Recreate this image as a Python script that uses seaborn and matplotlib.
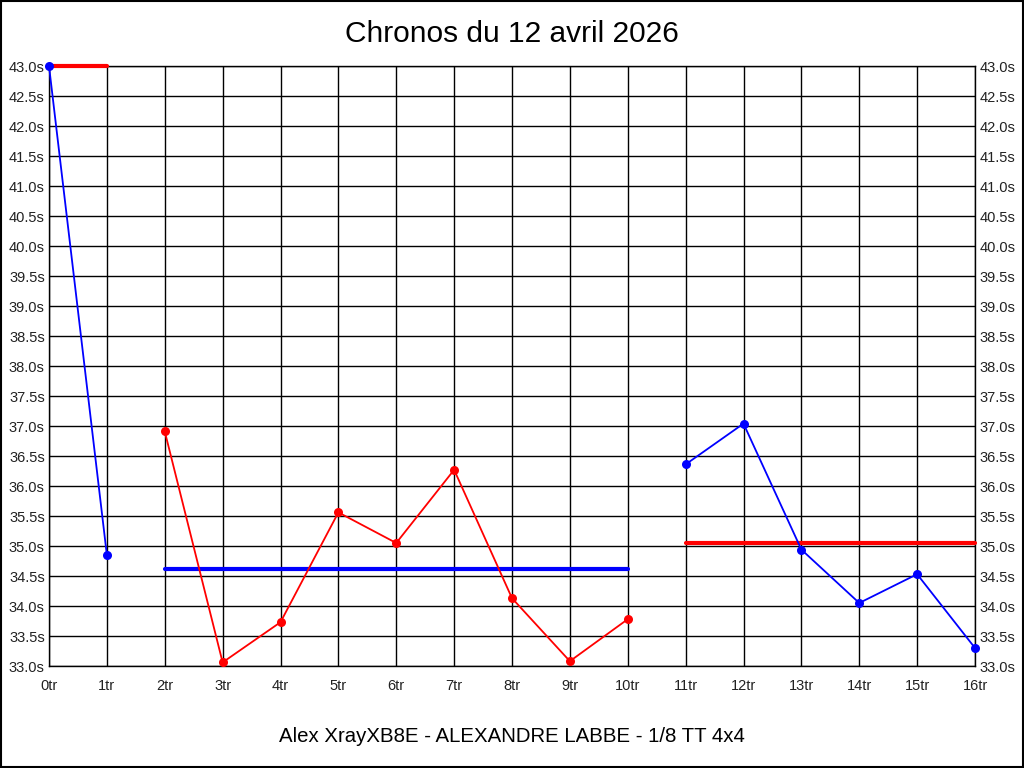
import pandas as pd
import matplotlib.pyplot as plt
import matplotlib.patches as mpatches
import seaborn as sns

# tours et chronos (en secondes)
tours_a = [0, 1]
chronos_a = [43.0, 34.85]
tours_b = [2, 3, 4, 5, 6, 7, 8, 9, 10]
chronos_b = [36.91, 33.06, 33.73, 35.56, 35.05, 36.27, 34.13, 33.08, 33.78]
tours_c = [11, 12, 13, 14, 15, 16]
chronos_c = [36.36, 37.04, 34.94, 34.05, 34.53, 33.30]

# lignes de moyenne
moy_debut = [0, 2, 11]
moy_fin = [1, 10, 16]
moy_valeur = [43.0, 34.62, 35.05]
moy_couleur = ["red", "blue", "red"]
serie_couleur = ["blue", "red", "blue"]

x_labels = [f"{i}tr" for i in range(17)]
y_ticks = [33.0 + 0.5 * i for i in range(21)]

sns.set_theme(style="white")
plt.rcParams["font.family"] = ["Liberation Sans", "DejaVu Sans"]

fig = plt.figure(figsize=(10.24, 7.68), dpi=100)
ax = fig.add_axes([49 / 1024, 1 - 666 / 768, 926 / 1024, 600 / 768])

for d, f, v, col in zip(moy_debut, moy_fin, moy_valeur, moy_couleur):
    df = pd.DataFrame({"tour": [d, f], "chrono": [v, v]})
    sns.lineplot(data=df, x="tour", y="chrono", ax=ax, color=col, lw=3, zorder=3,
                 clip_on=False)

series = [(tours_a, chronos_a), (tours_b, chronos_b), (tours_c, chronos_c)]
for (tours, chronos), col in zip(series, serie_couleur):
    df = pd.DataFrame({"tour": tours, "chrono": chronos})
    sns.lineplot(data=df, x="tour", y="chrono", ax=ax, color=col, lw=1.3,
                 marker="o", markersize=6.5, markeredgewidth=0, zorder=4, clip_on=False)

ax.set_xlim(0, 16)
ax.set_ylim(33.0, 43.0)
ax.set_xticks(range(17))
ax.set_xticklabels(x_labels)
ax.set_yticks(y_ticks)
ax.set_yticklabels([f"{v:.1f}s" for v in y_ticks])
ax.tick_params(axis="both", length=0, labelsize=10.5, colors="#222222")
ax.tick_params(axis="x", pad=9)
ax.tick_params(axis="y", pad=3, labelright=True)
ax.grid(True, color="black", lw=1)
ax.set_axisbelow(True)
for s in ax.spines.values():
    s.set_color("black")
    s.set_linewidth(1)
ax.set_xlabel("")
ax.set_ylabel("")

fig.text(0.5, 1 - 34 / 768, "Chronos du 12 avril 2026", ha="center", va="center",
         fontsize=21.5, color="black")
fig.text(0.5, 1 - 736 / 768, "Alex XrayXB8E - ALEXANDRE LABBE - 1/8 TT 4x4",
         ha="center", va="center", fontsize=14.7, color="black")

fig.patches.append(mpatches.Rectangle((0.001, 0.001), 0.998, 0.998, transform=fig.transFigure,
                                      fill=False, edgecolor="black", lw=1.5))

plt.savefig("out.png", dpi=100)
plt.close()
